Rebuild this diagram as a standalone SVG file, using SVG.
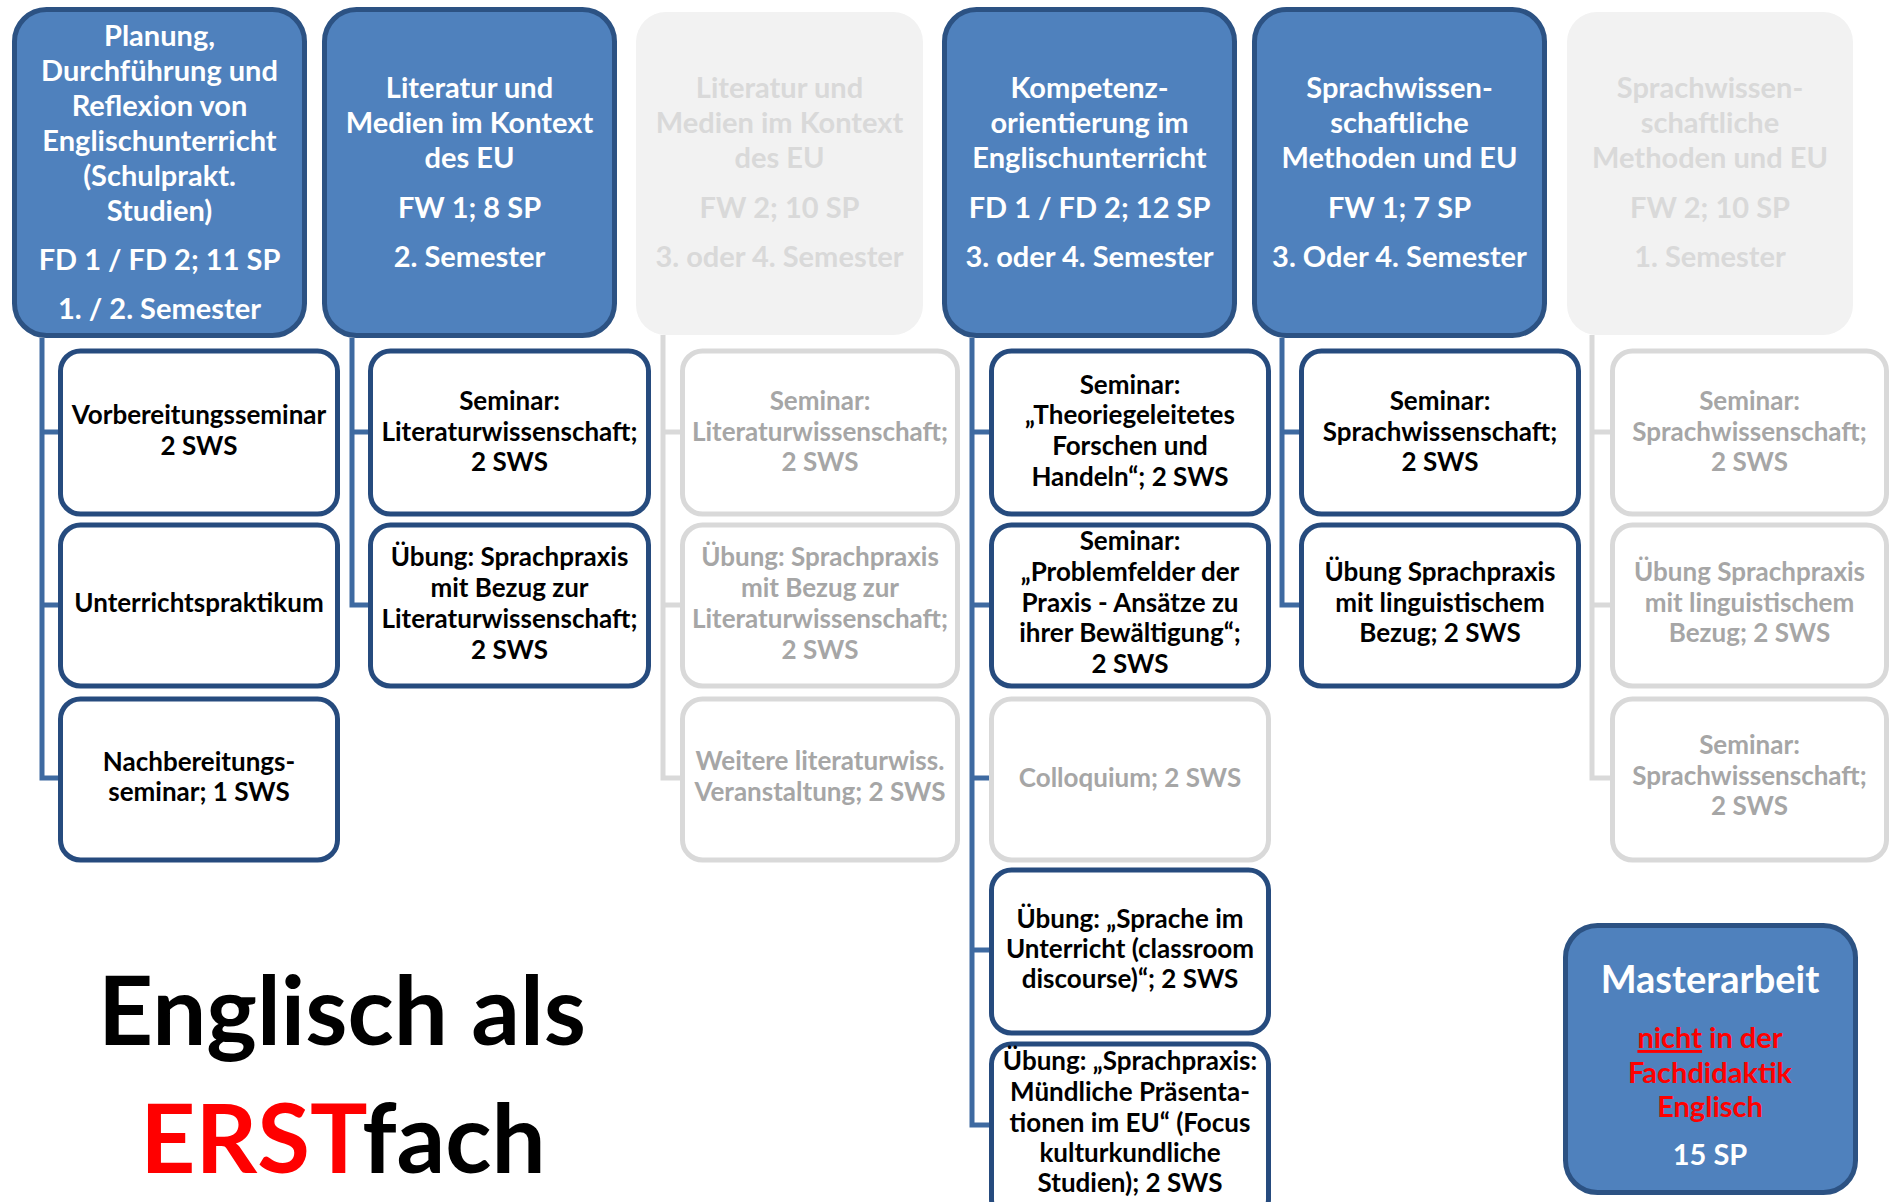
<svg xmlns="http://www.w3.org/2000/svg" width="1892" height="1202" viewBox="0 0 1892 1202">
<style>
text{font-family:Lato,"Open Sans",sans-serif;font-weight:bold;text-anchor:middle}
.hb{fill:#4F81BD;stroke:#2C5283;stroke-width:5}
.hg{fill:#F2F2F2}
.cb{fill:#fff;stroke:#264B7E;stroke-width:5}
.cg{fill:#fff;stroke:#D9D9D9;stroke-width:5}
.ht{font-size:29px;fill:#fff}
.hgt{font-size:29px;fill:#D9D9D9}
.ct{font-size:26px;fill:#000}
.cgt{font-size:26px;fill:#A6A6A6}
.cn{fill:none;stroke:#3E6AA1;stroke-width:5}
.cng{fill:none;stroke:#D9D9D9;stroke-width:5}
</style>
<rect width="1892" height="1202" fill="#fff"/>
<g id="connectors">
<path class="cn" d="M42,338 V778 H62 M42,432 H62 M42,605 H62"/>
<path class="cn" d="M352,338 V605 H372 M352,432 H372"/>
<path class="cng" d="M663,335 V778 H684 M663,432 H684 M663,605 H684"/>
<path class="cn" d="M972,338 V1125 H993 M972,432 H993 M972,605 H993 M972,778 H993 M972,950 H993"/>
<path class="cn" d="M1282,338 V605 H1303 M1282,432 H1303"/>
<path class="cng" d="M1592,335 V778 H1614 M1592,432 H1614 M1592,605 H1614"/>
</g>
<g id="h1"><rect class="hb" x="14.5" y="9.5" width="290" height="326" rx="32"/>
<text class="ht" x="159.5" y="46">Planung,</text><text class="ht" x="159.5" y="81">Durchführung und</text><text class="ht" x="159.5" y="116">Reflexion von</text><text class="ht" x="159.5" y="151">Englischunterricht</text><text class="ht" x="159.5" y="186">(Schulprakt.</text><text class="ht" x="159.5" y="221">Studien)</text><text class="ht" x="159.5" y="270">FD 1 / FD 2; 11 SP</text><text class="ht" x="159.5" y="319">1. / 2. Semester</text></g>
<g id="h2"><rect class="hb" x="324.5" y="9.5" width="290" height="326" rx="32"/>
<text class="ht" x="469.5" y="98">Literatur und</text><text class="ht" x="469.5" y="133">Medien im Kontext</text><text class="ht" x="469.5" y="168">des EU</text><text class="ht" x="469.5" y="218">FW 1; 8 SP</text><text class="ht" x="469.5" y="267">2. Semester</text></g>
<g id="h3"><rect class="hg" x="636" y="12" width="287" height="323" rx="30"/>
<text class="hgt" x="779.5" y="98">Literatur und</text><text class="hgt" x="779.5" y="133">Medien im Kontext</text><text class="hgt" x="779.5" y="168">des EU</text><text class="hgt" x="779.5" y="218">FW 2; 10 SP</text><text class="hgt" x="779.5" y="267">3. oder 4. Semester</text></g>
<g id="h4"><rect class="hb" x="944.5" y="9.5" width="290" height="326" rx="32"/>
<text class="ht" x="1089.5" y="98">Kompetenz-</text><text class="ht" x="1089.5" y="133">orientierung im</text><text class="ht" x="1089.5" y="168">Englischunterricht</text><text class="ht" x="1089.5" y="218">FD 1 / FD 2; 12 SP</text><text class="ht" x="1089.5" y="267">3. oder 4. Semester</text></g>
<g id="h5"><rect class="hb" x="1254.5" y="9.5" width="290" height="326" rx="32"/>
<text class="ht" x="1399.5" y="98">Sprachwissen-</text><text class="ht" x="1399.5" y="133">schaftliche</text><text class="ht" x="1399.5" y="168">Methoden und EU</text><text class="ht" x="1399.5" y="218">FW 1; 7 SP</text><text class="ht" x="1399.5" y="267">3. Oder 4. Semester</text></g>
<g id="h6"><rect class="hg" x="1567" y="12" width="286" height="323" rx="30"/>
<text class="hgt" x="1710" y="98">Sprachwissen-</text><text class="hgt" x="1710" y="133">schaftliche</text><text class="hgt" x="1710" y="168">Methoden und EU</text><text class="hgt" x="1710" y="218">FW 2; 10 SP</text><text class="hgt" x="1710" y="267">1. Semester</text></g>

<g id="c1a"><rect class="cb" x="60.5" y="351" width="277" height="163" rx="20"/><text class="ct" x="199" y="424">Vorbereitungsseminar</text><text class="ct" x="199" y="455">2 SWS</text></g>
<g id="c1b"><rect class="cb" x="60.5" y="525" width="277" height="161" rx="20"/><text class="ct" x="199" y="612">Unterrichtspraktikum</text></g>
<g id="c1c"><rect class="cb" x="60.5" y="699" width="277" height="161" rx="20"/><text class="ct" x="199" y="771">Nachbereitungs-</text><text class="ct" x="199" y="801">seminar; 1 SWS</text></g>

<g id="c2a"><rect class="cb" x="370.5" y="351" width="278" height="163" rx="20"/><text class="ct" x="509.5" y="410">Seminar:</text><text class="ct" x="509.5" y="441">Literaturwissenschaft;</text><text class="ct" x="509.5" y="471">2 SWS</text></g>
<g id="c2b"><rect class="cb" x="370.5" y="525" width="278" height="161" rx="20"/><text class="ct" x="509.5" y="566">Übung: Sprachpraxis</text><text class="ct" x="509.5" y="597">mit Bezug zur</text><text class="ct" x="509.5" y="628">Literaturwissenschaft;</text><text class="ct" x="509.5" y="659">2 SWS</text></g>

<g id="c3a"><rect class="cg" x="682.5" y="351" width="275" height="163" rx="20"/><text class="cgt" x="820" y="410">Seminar:</text><text class="cgt" x="820" y="441">Literaturwissenschaft;</text><text class="cgt" x="820" y="471">2 SWS</text></g>
<g id="c3b"><rect class="cg" x="682.5" y="525" width="275" height="161" rx="20"/><text class="cgt" x="820" y="566">Übung: Sprachpraxis</text><text class="cgt" x="820" y="597">mit Bezug zur</text><text class="cgt" x="820" y="628">Literaturwissenschaft;</text><text class="cgt" x="820" y="659">2 SWS</text></g>
<g id="c3c"><rect class="cg" x="682.5" y="699" width="275" height="161" rx="20"/><text class="cgt" x="820" y="770">Weitere literaturwiss.</text><text class="cgt" x="820" y="801">Veranstaltung; 2 SWS</text></g>

<g id="c4a"><rect class="cb" x="991.5" y="351" width="277" height="163" rx="20"/><text class="ct" x="1130" y="394">Seminar:</text><text class="ct" x="1130" y="424">„Theoriegeleitetes</text><text class="ct" x="1130" y="455">Forschen und</text><text class="ct" x="1130" y="486">Handeln“; 2 SWS</text></g>
<g id="c4b"><rect class="cb" x="991.5" y="525" width="277" height="161" rx="20"/><text class="ct" x="1130" y="550">Seminar:</text><text class="ct" x="1130" y="581">„Problemfelder der</text><text class="ct" x="1130" y="612">Praxis - Ansätze zu</text><text class="ct" x="1130" y="642">ihrer Bewältigung“;</text><text class="ct" x="1130" y="673">2 SWS</text></g>
<g id="c4c"><rect class="cg" x="991.5" y="699" width="277" height="161" rx="20"/><text class="cgt" x="1130" y="787">Colloquium; 2 SWS</text></g>
<g id="c4d"><rect class="cb" x="991.5" y="870" width="277" height="163" rx="20"/><text class="ct" x="1130" y="928">Übung: „Sprache im</text><text class="ct" x="1130" y="958">Unterricht (classroom</text><text class="ct" x="1130" y="988">discourse)“; 2 SWS</text></g>
<g id="c4e"><rect class="cb" x="991.5" y="1044" width="277" height="175" rx="20"/><text class="ct" x="1130" y="1070">Übung: „Sprachpraxis:</text><text class="ct" x="1130" y="1101">Mündliche Präsenta-</text><text class="ct" x="1130" y="1132">tionen im EU“ (Focus</text><text class="ct" x="1130" y="1162">kulturkundliche</text><text class="ct" x="1130" y="1192">Studien); 2 SWS</text></g>

<g id="c5a"><rect class="cb" x="1301.5" y="351" width="277" height="163" rx="20"/><text class="ct" x="1440" y="410">Seminar:</text><text class="ct" x="1440" y="441">Sprachwissenschaft;</text><text class="ct" x="1440" y="471">2 SWS</text></g>
<g id="c5b"><rect class="cb" x="1301.5" y="525" width="277" height="161" rx="20"/><text class="ct" x="1440" y="581">Übung Sprachpraxis</text><text class="ct" x="1440" y="612">mit linguistischem</text><text class="ct" x="1440" y="642">Bezug; 2 SWS</text></g>

<g id="c6a"><rect class="cg" x="1612.5" y="351" width="274" height="163" rx="20"/><text class="cgt" x="1749.5" y="410">Seminar:</text><text class="cgt" x="1749.5" y="441">Sprachwissenschaft;</text><text class="cgt" x="1749.5" y="471">2 SWS</text></g>
<g id="c6b"><rect class="cg" x="1612.5" y="525" width="274" height="161" rx="20"/><text class="cgt" x="1749.5" y="581">Übung Sprachpraxis</text><text class="cgt" x="1749.5" y="612">mit linguistischem</text><text class="cgt" x="1749.5" y="642">Bezug; 2 SWS</text></g>
<g id="c6c"><rect class="cg" x="1612.5" y="699" width="274" height="161" rx="20"/><text class="cgt" x="1749.5" y="754">Seminar:</text><text class="cgt" x="1749.5" y="785">Sprachwissenschaft;</text><text class="cgt" x="1749.5" y="815">2 SWS</text></g>

<g id="master"><rect class="hb" x="1565.5" y="925.5" width="290" height="267" rx="32"/>
<text x="1710" y="993" style="font-size:38px;fill:#fff">Masterarbeit</text>
<text x="1710" y="1048" style="font-size:29px;fill:#FF0000"><tspan text-decoration="underline">nicht</tspan> in der</text>
<text x="1710" y="1083" style="font-size:29px;fill:#FF0000">Fachdidaktik</text>
<text x="1710" y="1117" style="font-size:29px;fill:#FF0000">Englisch</text>
<text x="1710" y="1165" style="font-size:29px;fill:#fff">15 SP</text></g>

<g id="title">
<text x="342" y="1045" style="font-size:96px;fill:#000">Englisch als</text>
<text x="343" y="1173" style="font-size:96px;fill:#000"><tspan fill="#FF0000">ERST</tspan>fach</text>
</g>
</svg>
